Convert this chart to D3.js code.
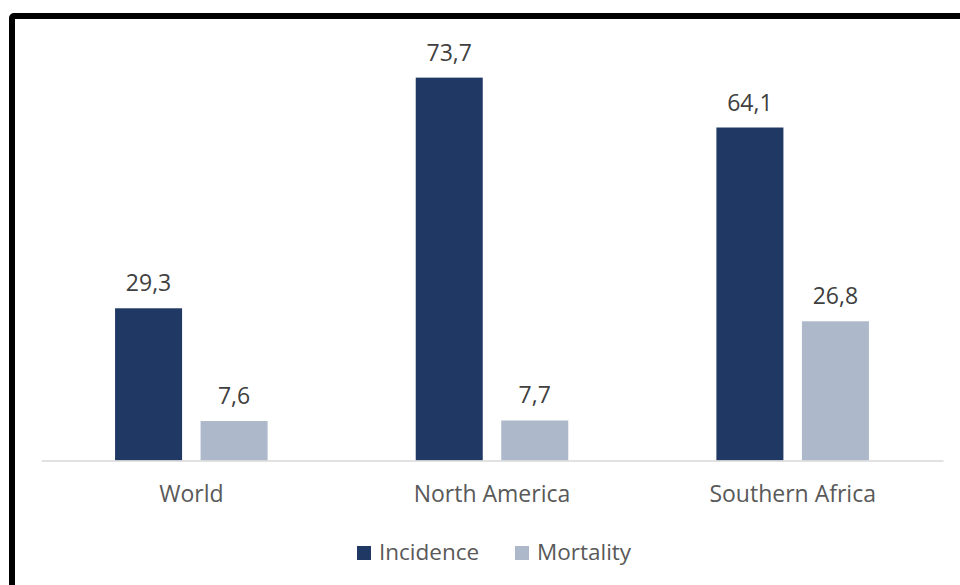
<!DOCTYPE html>
<html>
<head>
<meta charset="utf-8">
<script src="https://cdn.jsdelivr.net/npm/d3@7"></script>
<style>
  html, body { margin: 0; padding: 0; background: #fff; }
  svg { display: block; }
</style>
</head>
<body>
<svg id="chart" width="960" height="585"></svg>
<script>
// Rates per 100 000 by region
const categories = ["World", "North America", "Southern Africa"];
const series = ["Incidence", "Mortality"];
const incidence = [29.3, 73.7, 64.1];
const mortality = [7.6, 7.7, 26.8];
const seriesColors = ["#203864", "#adb9ca"];

const values = [incidence, mortality];
const rows = categories.map((c, i) => ({
  category: c,
  bars: series.map((s, j) => ({ series: s, value: values[j][i], color: seriesColors[j] }))
}));

const svg = d3.select("#chart");
const W = 960, H = 585;
const font = "'Open Sans', 'Noto Sans', sans-serif";

svg.append("rect").attr("width", W).attr("height", H).attr("fill", "#fff");

// Heavy black frame, running off the right and bottom edges
svg.append("rect")
  .attr("x", 12).attr("y", 16)
  .attr("width", W + 40).attr("height", H + 40)
  .attr("rx", 2)
  .attr("fill", "#fff")
  .attr("stroke", "#000")
  .attr("stroke-width", 6);

const plot = { left: 41, right: 943, top: 44.9, bottom: 460.5 };

const x = d3.scaleBand().domain(categories).range([plot.left, plot.right]).padding(0);
const xSub = d3.scaleBand().domain(series).range([0, x.bandwidth()])
  .paddingInner(0.2164).paddingOuter(0.866);
const y = d3.scaleLinear().domain([0, 80]).range([plot.bottom, plot.top]);

const fmt = v => d3.format(".1f")(v).replace(".", ",");

const groups = svg.append("g").selectAll("g")
  .data(rows).join("g")
  .attr("transform", d => `translate(${x(d.category)},0)`);

groups.selectAll("rect")
  .data(d => d.bars).join("rect")
  .attr("x", d => xSub(d.series))
  .attr("y", d => y(d.value))
  .attr("width", xSub.bandwidth())
  .attr("height", d => y(0) - y(d.value))
  .attr("fill", d => d.color);

groups.selectAll("text")
  .data(d => d.bars).join("text")
  .attr("x", d => xSub(d.series) + xSub.bandwidth() / 2)
  .attr("y", d => y(d.value) - 17)
  .attr("text-anchor", "middle")
  .attr("font-family", font)
  .attr("font-size", 23)
  .attr("fill", "#404040")
  .text(d => fmt(d.value));

// Category axis
const xAxis = svg.append("g")
  .attr("transform", `translate(0,${plot.bottom})`)
  .call(d3.axisBottom(x).tickSize(0).tickPadding(25));
xAxis.select(".domain").attr("stroke", "#d9d9d9").attr("stroke-width", 1.5);
xAxis.selectAll(".tick text")
  .attr("font-family", font)
  .attr("font-size", 23)
  .attr("fill", "#595959");

// Legend
const legend = svg.append("g").attr("transform", "translate(357,0)");
const legendItems = legend.selectAll("g")
  .data(series).join("g")
  .attr("transform", (d, i) => `translate(${i * 158},0)`);
legendItems.append("rect")
  .attr("x", 0).attr("y", 546)
  .attr("width", 14).attr("height", 14)
  .attr("fill", (d, i) => seriesColors[i]);
legendItems.append("text")
  .attr("x", 22).attr("y", 560)
  .attr("font-family", font)
  .attr("font-size", 22.5)
  .attr("fill", "#595959")
  .text(d => d);
</script>
</body>
</html>
